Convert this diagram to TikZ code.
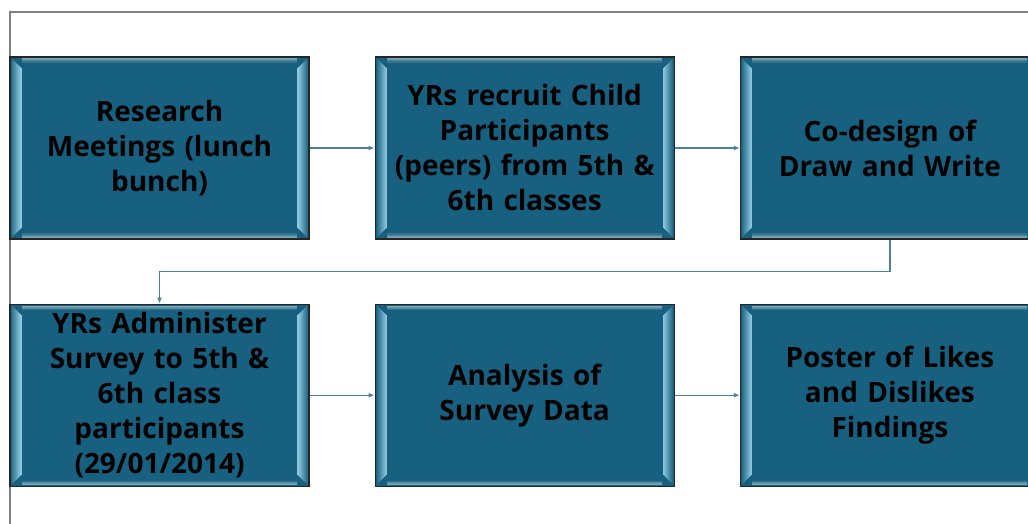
\documentclass[tikz,border=0pt]{standalone}
\usepackage{fontspec}
\setmainfont{Open Sans}
\usetikzlibrary{arrows.meta, positioning}

\definecolor{boxblue}{HTML}{17607F}
\definecolor{bevel}{HTML}{A8DDF2}
\definecolor{linkblue}{HTML}{4A82A6}

\tikzset{
  stage/.style={draw=black!85, line width=1.2pt, fill=boxblue,
    minimum width=299pt, minimum height=182pt, inner sep=0pt,
    text width=270pt, align=center,
    font=\fontsize{28pt}{35pt}\selectfont\bfseries,
    path picture={
      % bevelled edges
      \foreach \i in {0,...,9}{
        \pgfmathsetmacro{\p}{10+8*\i}
        \draw[bevel!\p!boxblue, line width=1.1pt]
          ([xshift=2+\i,yshift=-2-\i]path picture bounding box.north west)
          -- ([xshift=2+\i,yshift=2+\i]path picture bounding box.south west);
        \draw[bevel!\p!boxblue, line width=1.1pt]
          ([xshift=-2-\i,yshift=-2-\i]path picture bounding box.north east)
          -- ([xshift=-2-\i,yshift=2+\i]path picture bounding box.south east);
      }
      \foreach \i/\p in {0/45,1/35,2/25,3/12}{
        \draw[white!\p!boxblue, line width=1.1pt]
          ([xshift=12,yshift=-2-\i]path picture bounding box.north west)
          -- ([xshift=-12,yshift=-2-\i]path picture bounding box.north east);
        \draw[white!\p!boxblue, line width=1.1pt]
          ([xshift=12,yshift=2+\i]path picture bounding box.south west)
          -- ([xshift=-12,yshift=2+\i]path picture bounding box.south east);
      }
    }},
  link/.style={draw=linkblue, line width=1.3pt, -{Latex[length=6pt,width=5pt]}},
  node distance=64pt and 65pt
}

\begin{document}
\begin{tikzpicture}[x=1pt, y=1pt]
  \useasboundingbox (0,0) rectangle (1028,-524);
  % frame
  \draw[gray, line width=1.2pt] (10,-524) -- (10,-12) -- (1028,-12);

  % first row
  \node[stage] (meet) at (159.5,-148) {Research\\Meetings (lunch\\bunch)};
  \node[stage, right=of meet] (recruit) {YRs recruit Child\\Participants\\(peers) from 5th \&\\6th classes};
  \node[stage, right=of recruit] (codesign) {Co-design of\\Draw and Write};

  % second row
  \node[stage, below=of meet] (survey) {YRs Administer\\Survey to 5th \&\\6th class\\participants\\(29/01/2014)};
  \node[stage, right=of survey] (analysis) {Analysis of\\Survey Data};
  \node[stage, right=of analysis] (poster) {Poster of Likes\\and Dislikes\\Findings};

  \draw[link] (meet) -- (recruit);
  \draw[link] (recruit) -- (codesign);
  \draw[link] (codesign.south) -- ++(0,-32) -| (survey.north);
  \draw[link] (survey) -- (analysis);
  \draw[link] (analysis) -- (poster);
\end{tikzpicture}
\end{document}
